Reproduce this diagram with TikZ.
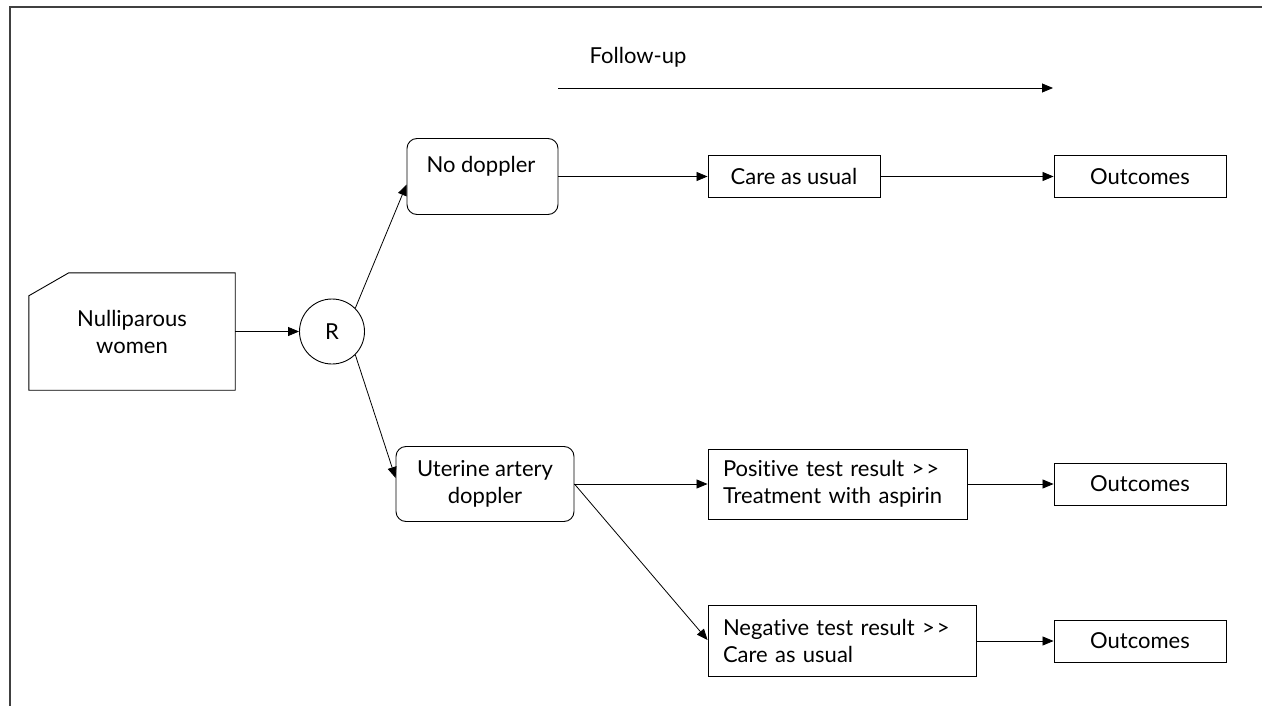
\documentclass[tikz,border=0pt]{standalone}
\usepackage{fontspec}
\setmainfont{Lato}[Ligatures=NoCommon]
\usetikzlibrary{arrows.meta}
\newcommand{\dgt}{>\kern2pt>}
\begin{document}
\begin{tikzpicture}[x=1pt,y=-1pt,
  every node/.style={font=\fontsize{22}{27}\selectfont, inner sep=0pt},
  box/.style={draw, line width=0.9pt},
  rbox/.style={draw, line width=0.9pt, rounded corners=10pt},
  conn/.style={line width=0.8pt, -{Triangle[length=11pt,width=9pt]}},
  frameline/.style={line width=1.8pt, draw=black!75}]
\useasboundingbox (0,0) rectangle (1262,706);
% frame
\coordinate (fa) at (10,706);
\coordinate (fb) at (10,7);
\coordinate (fc) at (1262,7);
\draw[frameline] (fa) -- (fb) -- (fc);
% follow-up
\coordinate (fu1) at (558,88);
\coordinate (fu2) at (1053,88);
\node (futxt) at (638,57) {Follow-up};
\draw[conn] (fu1) -- (fu2);
% nulliparous women
\node[minimum width=206pt, minimum height=117pt, align=center] (nw) at (132,331.5) {Nulliparous\\women};
\draw[line width=0.9pt] (nw.south west) -- ([yshift=-23pt]nw.north west) -- ([xshift=40pt]nw.north west) -- (nw.north east) -- (nw.south east) -- cycle;
% R
\node[draw, circle, line width=0.9pt, minimum size=65pt] (R) at (332,331.5) {R};
% no doppler
\node[rbox, minimum width=151pt, minimum height=76pt] (nod) at (482.5,176.5) {};
\node (nodtxt) at (481,166) {No doppler};
% uterine
\node[rbox, minimum width=178pt, minimum height=75pt, align=center] (ut) at (485,484) {Uterine artery\\doppler};
% care as usual
\node[box, minimum width=172pt, minimum height=42pt] (care) at (794,176.5) {Care as usual};
% positive
\node[box, minimum width=259pt, minimum height=70pt, inner xsep=15pt, align=left, text width=229pt] (pos) at (837.5,484) {Positive test result \dgt\\Treatment with aspirin};
% negative
\node[box, minimum width=268pt, minimum height=71pt, inner xsep=15pt, align=left, text width=238pt] (neg) at (842,641) {Negative test result \dgt\\Care as usual};
% outcomes
\node[box, minimum width=172pt, minimum height=42pt] (o1) at (1140,176.5) {Outcomes};
\node[box, minimum width=172pt, minimum height=42pt] (o2) at (1140,484) {Outcomes};
\node[box, minimum width=172pt, minimum height=42pt] (o3) at (1140,641) {Outcomes};
% connectors
\draw[conn] (nw.east) -- (R.west);
\draw[conn] (R.north east) -- ([yshift=-8pt]nod.west);
\draw[conn] (R.south east) -- ([yshift=6pt]ut.west);
\draw[conn] (nod.east) -- (care.west);
\draw[conn] (care.east) -- (o1.west);
\draw[conn] (ut.east) -- (pos.west);
\draw[conn] (ut.east) -- ([yshift=1pt]neg.west);
\draw[conn] (pos.east) -- (o2.west);
\draw[conn] (neg.east) -- (o3.west);
\end{tikzpicture}
\end{document}
